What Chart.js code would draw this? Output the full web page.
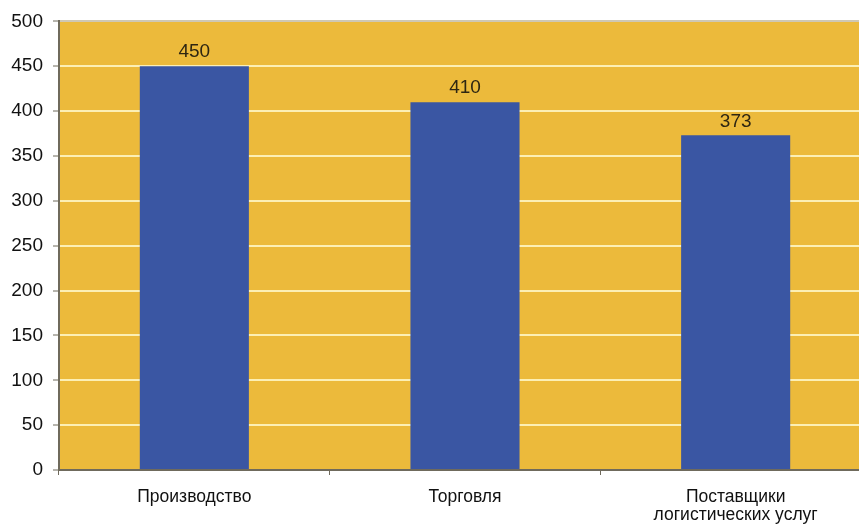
<!DOCTYPE html>
<html>
<head>
<meta charset="utf-8">
<script src="https://cdn.jsdelivr.net/npm/chart.js@4.4.1/dist/chart.umd.min.js"></script>
<style>
  html, body { margin: 0; padding: 0; background: #ffffff; overflow: hidden; }
  #wrap { position: relative; width: 871px; height: 525px; }
</style>
</head>
<body>
<div id="wrap"><canvas id="c" width="871" height="525"></canvas></div>
<script>
// Categories and values
const categories = [
  'Производство',
  'Торговля',
  ['Поставщики', 'логистических услуг']
];
const values = [450, 410, 373];
const yTicks = [0, 50, 100, 150, 200, 250, 300, 350, 400, 450, 500];

const PLOT_BG = '#ECBA3B';
const BAR_COLOR = '#3A56A3';
const GRID_COLOR = '#FCEFB4';
const AXIS_COLOR = '#6f6a5c';
const FONT = '"Liberation Sans", Arial, sans-serif';

// Fills the plotting area before datasets are drawn
const plotBackground = {
  id: 'plotBackground',
  beforeDraw(chart) {
    const { ctx, chartArea: a } = chart;
    ctx.save();
    ctx.fillStyle = PLOT_BG;
    ctx.fillRect(a.left, a.top, a.right - a.left, a.bottom - a.top);
    ctx.restore();
  }
};

// Writes each bar's value above it
const valueLabels = {
  id: 'valueLabels',
  afterDatasetsDraw(chart) {
    const { ctx } = chart;
    const meta = chart.getDatasetMeta(0);
    ctx.save();
    ctx.font = '19px ' + FONT;
    ctx.fillStyle = '#2e2612';
    ctx.textAlign = 'center';
    ctx.textBaseline = 'middle';
    meta.data.forEach((bar, i) => {
      ctx.fillText(String(values[i]), bar.x, bar.y - 14);
    });
    ctx.restore();
  }
};

new Chart(document.getElementById('c'), {
  type: 'bar',
  data: {
    labels: categories,
    datasets: [{
      data: values,
      backgroundColor: BAR_COLOR,
      borderWidth: 0,
      barPercentage: 0.403,
      categoryPercentage: 1
    }]
  },
  options: {
    responsive: false,
    animation: false,
    devicePixelRatio: 1,
    layout: { padding: { top: 20, right: 0, bottom: 0, left: 0 } },
    plugins: {
      legend: { display: false },
      tooltip: { enabled: false }
    },
    scales: {
      x: {
        offset: true,
        border: { display: true, color: AXIS_COLOR, width: 1 },
        grid: {
          offset: true,
          drawOnChartArea: false,
          drawTicks: true,
          tickLength: 5,
          tickColor: AXIS_COLOR,
          tickWidth: 1
        },
        ticks: {
          color: '#111111',
          font: { family: FONT, size: 17.5, lineHeight: 1.05 },
          padding: 13,
          maxRotation: 0,
          autoSkip: false
        },
        afterFit(scale) { scale.height = 55; }
      },
      y: {
        min: 0,
        max: 500,
        afterBuildTicks(scale) { scale.ticks = yTicks.map(v => ({ value: v })); },
        border: { display: true, color: AXIS_COLOR, width: 2 },
        grid: {
          color: ctx => (ctx.tick && ctx.tick.value === 500) ? '#cfc8b4' : (ctx.tick && ctx.tick.value === 0 ? AXIS_COLOR : GRID_COLOR),
          lineWidth: 2,
          drawTicks: true,
          tickLength: 6,
          tickColor: AXIS_COLOR,
          tickWidth: 1
        },
        ticks: {
          color: '#111111',
          font: { family: FONT, size: 19 },
          padding: 10
        },
        afterFit(scale) { scale.width = 59; }
      }
    }
  },
  plugins: [plotBackground, valueLabels]
});
</script>
</body>
</html>
